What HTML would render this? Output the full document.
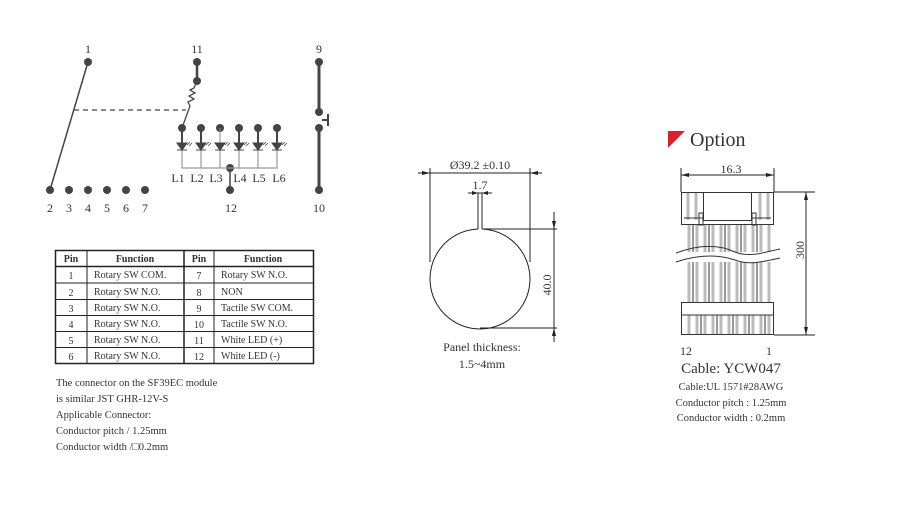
<!DOCTYPE html>
<html><head><meta charset="utf-8"><style>
html,body{margin:0;padding:0;background:#fff;}
svg{display:block;}
text{font-family:"Liberation Serif",serif;fill:#333;}
</style></head><body>
<svg width="900" height="510" viewBox="0 0 900 510" xmlns="http://www.w3.org/2000/svg">
<!-- schematic -->
<g font-size="12" text-anchor="middle">
<text x="88" y="53">1</text><text x="197" y="53">11</text><text x="319" y="53">9</text>
<text x="50" y="212">2</text><text x="69" y="212">3</text><text x="88" y="212">4</text><text x="107" y="212">5</text><text x="126" y="212">6</text><text x="145" y="212">7</text>
<text x="231" y="212">12</text><text x="319" y="212">10</text>
<text x="178" y="182">L1</text><text x="197" y="182">L2</text><text x="216" y="182">L3</text><text x="240" y="182">L4</text><text x="259" y="182">L5</text><text x="279" y="182">L6</text>
</g>
<g fill="#444">
<circle cx="88" cy="62" r="4"/><circle cx="197" cy="62" r="4"/><circle cx="197" cy="81" r="4"/>
<circle cx="319" cy="62" r="4"/><circle cx="319" cy="112" r="4"/><circle cx="319" cy="128" r="4"/><circle cx="319" cy="190" r="4"/>
<circle cx="50" cy="190" r="4"/><circle cx="69" cy="190" r="4"/><circle cx="88" cy="190" r="4"/><circle cx="107" cy="190" r="4"/><circle cx="126" cy="190" r="4"/><circle cx="145" cy="190" r="4"/>
<circle cx="182" cy="128" r="4"/><circle cx="201" cy="128" r="4"/><circle cx="220" cy="128" r="4"/><circle cx="239" cy="128" r="4"/><circle cx="258" cy="128" r="4"/><circle cx="277" cy="128" r="4"/>
<circle cx="230" cy="168" r="4"/><circle cx="230" cy="190" r="4"/>
</g>
<g stroke="#444" fill="none">
<line x1="88" y1="62" x2="50" y2="190" stroke-width="1.5"/>
<line x1="74" y1="110" x2="186" y2="110" stroke-width="1.2" stroke-dasharray="5,4"/>
<line x1="197" y1="62" x2="197" y2="81" stroke-width="2.5"/>
<polyline points="197,81 194,88 190,90 195,93 189,96 194,99 188,102 190,106 182,128" stroke-width="1.3"/>
<line x1="319" y1="62" x2="319" y2="112" stroke-width="3"/>
<line x1="319" y1="128" x2="319" y2="190" stroke-width="3"/>
<line x1="322" y1="120" x2="328" y2="120" stroke-width="2"/><line x1="328" y1="114" x2="328" y2="126" stroke-width="2"/>
<line x1="230" y1="168" x2="230" y2="190" stroke-width="1.5"/>
</g>
<g stroke="#999" stroke-width="1.2" fill="none">
<polyline points="182,150 182,168 277,168 277,150"/>
<line x1="201" y1="150" x2="201" y2="168"/><line x1="220" y1="150" x2="220" y2="168"/><line x1="239" y1="150" x2="239" y2="168"/><line x1="258" y1="150" x2="258" y2="168"/>
</g>
<g id="leds" fill="#444" stroke="#444">
<g transform="translate(182,0)"><line x1="0" y1="128" x2="0" y2="144" stroke-width="2"/><path d="M-5,143 L5,143 L0,150 Z"/><line x1="-5" y1="150" x2="5" y2="150"/><line x1="5" y1="145" x2="8" y2="142" stroke-width="0.8"/><line x1="7" y1="146" x2="10" y2="143" stroke-width="0.8"/></g>
<g transform="translate(201,0)"><line x1="0" y1="128" x2="0" y2="144" stroke-width="2"/><path d="M-5,143 L5,143 L0,150 Z"/><line x1="-5" y1="150" x2="5" y2="150"/><line x1="5" y1="145" x2="8" y2="142" stroke-width="0.8"/><line x1="7" y1="146" x2="10" y2="143" stroke-width="0.8"/></g>
<g transform="translate(220,0)"><line x1="0" y1="128" x2="0" y2="144" stroke-width="1" stroke="#888"/><path d="M-5,143 L5,143 L0,150 Z"/><line x1="-5" y1="150" x2="5" y2="150"/><line x1="5" y1="145" x2="8" y2="142" stroke-width="0.8"/><line x1="7" y1="146" x2="10" y2="143" stroke-width="0.8"/></g>
<g transform="translate(239,0)"><line x1="0" y1="128" x2="0" y2="144" stroke-width="2"/><path d="M-5,143 L5,143 L0,150 Z"/><line x1="-5" y1="150" x2="5" y2="150"/><line x1="5" y1="145" x2="8" y2="142" stroke-width="0.8"/><line x1="7" y1="146" x2="10" y2="143" stroke-width="0.8"/></g>
<g transform="translate(258,0)"><line x1="0" y1="128" x2="0" y2="144" stroke-width="2"/><path d="M-5,143 L5,143 L0,150 Z"/><line x1="-5" y1="150" x2="5" y2="150"/><line x1="5" y1="145" x2="8" y2="142" stroke-width="0.8"/><line x1="7" y1="146" x2="10" y2="143" stroke-width="0.8"/></g>
<g transform="translate(277,0)"><line x1="0" y1="128" x2="0" y2="144" stroke-width="2"/><path d="M-5,143 L5,143 L0,150 Z"/><line x1="-5" y1="150" x2="5" y2="150"/><line x1="5" y1="145" x2="8" y2="142" stroke-width="0.8"/><line x1="7" y1="146" x2="10" y2="143" stroke-width="0.8"/></g>
</g>

<!-- table -->
<g stroke="#222" fill="none">
<rect x="55.5" y="250.5" width="258" height="113" stroke-width="1.5"/>
<line x1="87" y1="250" x2="87" y2="364"/><line x1="184" y1="250" x2="184" y2="364" stroke-width="1.5"/><line x1="214" y1="250" x2="214" y2="364"/>
<line x1="55" y1="266.5" x2="313" y2="266.5" stroke-width="1.5"/>
<line x1="55" y1="283" x2="313" y2="283"/><line x1="55" y1="299.5" x2="313" y2="299.5"/><line x1="55" y1="315.5" x2="313" y2="315.5"/><line x1="55" y1="331.5" x2="313" y2="331.5"/><line x1="55" y1="347.5" x2="313" y2="347.5"/>
</g>
<g font-size="10">
<g text-anchor="middle" font-weight="bold">
<text x="71" y="262">Pin</text><text x="135" y="262">Function</text><text x="199" y="262">Pin</text><text x="263" y="262">Function</text>
</g>
<g text-anchor="middle">
<text x="71" y="279">1</text><text x="71" y="296">2</text><text x="71" y="312">3</text><text x="71" y="328">4</text><text x="71" y="344">5</text><text x="71" y="360">6</text>
<text x="199" y="279">7</text><text x="199" y="296">8</text><text x="199" y="312">9</text><text x="199" y="328">10</text><text x="199" y="344">11</text><text x="199" y="360">12</text>
</g>
<text x="94" y="278">Rotary SW COM.</text><text x="94" y="295">Rotary SW  N.O.</text><text x="94" y="311">Rotary SW  N.O.</text><text x="94" y="327">Rotary SW  N.O.</text><text x="94" y="343">Rotary SW  N.O.</text><text x="94" y="359">Rotary SW  N.O.</text>
<text x="221" y="278">Rotary SW N.O.</text><text x="221" y="295">NON</text><text x="221" y="311">Tactile SW  COM.</text><text x="221" y="327">Tactile SW  N.O.</text><text x="221" y="343">White LED (+)</text><text x="221" y="359">White LED (-)</text>
</g>
<g font-size="10.5">
<text x="56" y="386">The connector on the SF39EC module</text>
<text x="56" y="402">is similar JST GHR-12V-S</text>
<text x="56" y="418">Applicable Connector:</text>
<text x="56" y="434">Conductor pitch / 1.25mm</text>
<text x="56" y="450">Conductor width /□0.2mm</text>
</g>

<!-- circle drawing -->
<g stroke="#222" fill="none" stroke-width="1">
<path d="M482,229 A50,50 0 1,1 478,229"/>
<line x1="478" y1="229" x2="478" y2="193"/><line x1="482" y1="229" x2="482" y2="193"/>
<line x1="430" y1="168" x2="430" y2="262"/><line x1="530" y1="168" x2="530" y2="262"/>
<line x1="418" y1="173" x2="542" y2="173"/>
<line x1="468" y1="193" x2="492" y2="193"/>
<line x1="483" y1="229" x2="557" y2="229"/><line x1="480" y1="328" x2="557" y2="328"/>
<line x1="554" y1="212" x2="554" y2="342"/>
</g>
<g fill="#222">
<path d="M430,173 l-8,-2 v4z"/><path d="M530,173 l8,-2 v4z"/>
<path d="M478,193 l-6,-2 v4z"/><path d="M482,193 l6,-2 v4z"/>
<path d="M554,229 l-2,-8 h4z"/><path d="M554,328 l-2,8 h4z"/>
</g>
<g font-size="12" text-anchor="middle">
<text x="480" y="169">Ø39.2 ±0.10</text>
<text x="480" y="189">1.7</text>
<text x="551" y="285" transform="rotate(-90 551 285)">40.0</text>
<text x="482" y="351">Panel thickness:</text>
<text x="482" y="368">1.5~4mm</text>
</g>

<!-- Option cable -->
<path d="M668,131 L685,131 L668,148 Z" fill="#e31e24"/>
<text x="690" y="146" font-size="20">Option</text>
<g stroke="#222" fill="none" stroke-width="1">
<line x1="681" y1="168" x2="681" y2="192"/><line x1="774" y1="168" x2="774" y2="192"/>
<line x1="681" y1="175" x2="774" y2="175"/>
<line x1="774" y1="192" x2="815" y2="192"/><line x1="774" y1="335" x2="815" y2="335"/>
<line x1="806" y1="192" x2="806" y2="335"/>
</g>
<g fill="#222">
<path d="M681,175 l8,-2 v4z"/><path d="M774,175 l-8,-2 v4z"/>
<path d="M806,192 l-2,8 h4z"/><path d="M806,335 l-2,-8 h4z"/>
</g>
<g stroke="#bbb" stroke-width="3">
<line x1="689" y1="225" x2="689" y2="252"/><line x1="697" y1="225" x2="697" y2="252"/><line x1="705" y1="225" x2="705" y2="252"/><line x1="713" y1="225" x2="713" y2="252"/><line x1="721" y1="225" x2="721" y2="252"/><line x1="729" y1="225" x2="729" y2="252"/><line x1="737" y1="225" x2="737" y2="252"/><line x1="745" y1="225" x2="745" y2="252"/><line x1="753" y1="225" x2="753" y2="252"/><line x1="761" y1="225" x2="761" y2="252"/><line x1="769" y1="225" x2="769" y2="252"/>
<line x1="689" y1="262" x2="689" y2="302"/><line x1="697" y1="262" x2="697" y2="302"/><line x1="705" y1="262" x2="705" y2="302"/><line x1="713" y1="262" x2="713" y2="302"/><line x1="721" y1="262" x2="721" y2="302"/><line x1="729" y1="262" x2="729" y2="302"/><line x1="737" y1="262" x2="737" y2="302"/><line x1="745" y1="262" x2="745" y2="302"/><line x1="753" y1="262" x2="753" y2="302"/><line x1="761" y1="262" x2="761" y2="302"/><line x1="769" y1="262" x2="769" y2="302"/>
<line x1="689" y1="315" x2="689" y2="335"/><line x1="697" y1="315" x2="697" y2="335"/><line x1="705" y1="315" x2="705" y2="335"/><line x1="713" y1="315" x2="713" y2="335"/><line x1="721" y1="315" x2="721" y2="335"/><line x1="729" y1="315" x2="729" y2="335"/><line x1="737" y1="315" x2="737" y2="335"/><line x1="745" y1="315" x2="745" y2="335"/><line x1="753" y1="315" x2="753" y2="335"/><line x1="761" y1="315" x2="761" y2="335"/><line x1="769" y1="315" x2="769" y2="335"/>
<line x1="688" y1="193" x2="688" y2="220"/><line x1="696" y1="193" x2="696" y2="220"/><line x1="760" y1="193" x2="760" y2="220"/><line x1="768" y1="193" x2="768" y2="220"/>
</g>
<g stroke="#333" fill="none" stroke-width="1">
<rect x="681.5" y="192.5" width="92" height="32"/>
<rect x="703.5" y="192.5" width="48" height="28"/>
<line x1="684" y1="218" x2="703" y2="218"/><line x1="752" y1="218" x2="771" y2="218"/>
<rect x="699" y="213" width="4" height="12"/><rect x="752" y="213" width="4" height="12"/>
<line x1="693" y1="225" x2="693" y2="252"/><line x1="709" y1="225" x2="709" y2="252"/><line x1="725" y1="225" x2="725" y2="252"/><line x1="741" y1="225" x2="741" y2="252"/><line x1="757" y1="225" x2="757" y2="252"/>
<line x1="693" y1="262" x2="693" y2="302"/><line x1="709" y1="262" x2="709" y2="302"/><line x1="725" y1="262" x2="725" y2="302"/><line x1="741" y1="262" x2="741" y2="302"/><line x1="757" y1="262" x2="757" y2="302"/>
<path d="M676,253 C700,244 720,245 735,252 C750,258 765,252 780,249"/>
<path d="M676,262 C700,254 720,255 735,260 C750,266 765,261 780,258"/>
<rect x="681.5" y="302.5" width="92" height="32"/>
<line x1="681" y1="315" x2="774" y2="315"/>
<line x1="701" y1="315" x2="701" y2="335"/><line x1="717" y1="315" x2="717" y2="335"/><line x1="733" y1="315" x2="733" y2="335"/><line x1="749" y1="315" x2="749" y2="335"/><line x1="765" y1="315" x2="765" y2="335"/>
</g>
<g text-anchor="middle">
<text x="731" y="173" font-size="12">16.3</text>
<text x="804" y="250" font-size="12" transform="rotate(-90 804 250)">300</text>
<text x="686" y="355" font-size="12">12</text>
<text x="769" y="355" font-size="12">1</text>
<text x="731" y="373" font-size="15">Cable: YCW047</text>
<text x="731" y="390" font-size="10.5">Cable:UL 1571#28AWG</text>
<text x="731" y="406" font-size="10.5">Conductor pitch  : 1.25mm</text>
<text x="731" y="421" font-size="10.5">Conductor width : 0.2mm</text>
</g>
</svg>
</body></html>
